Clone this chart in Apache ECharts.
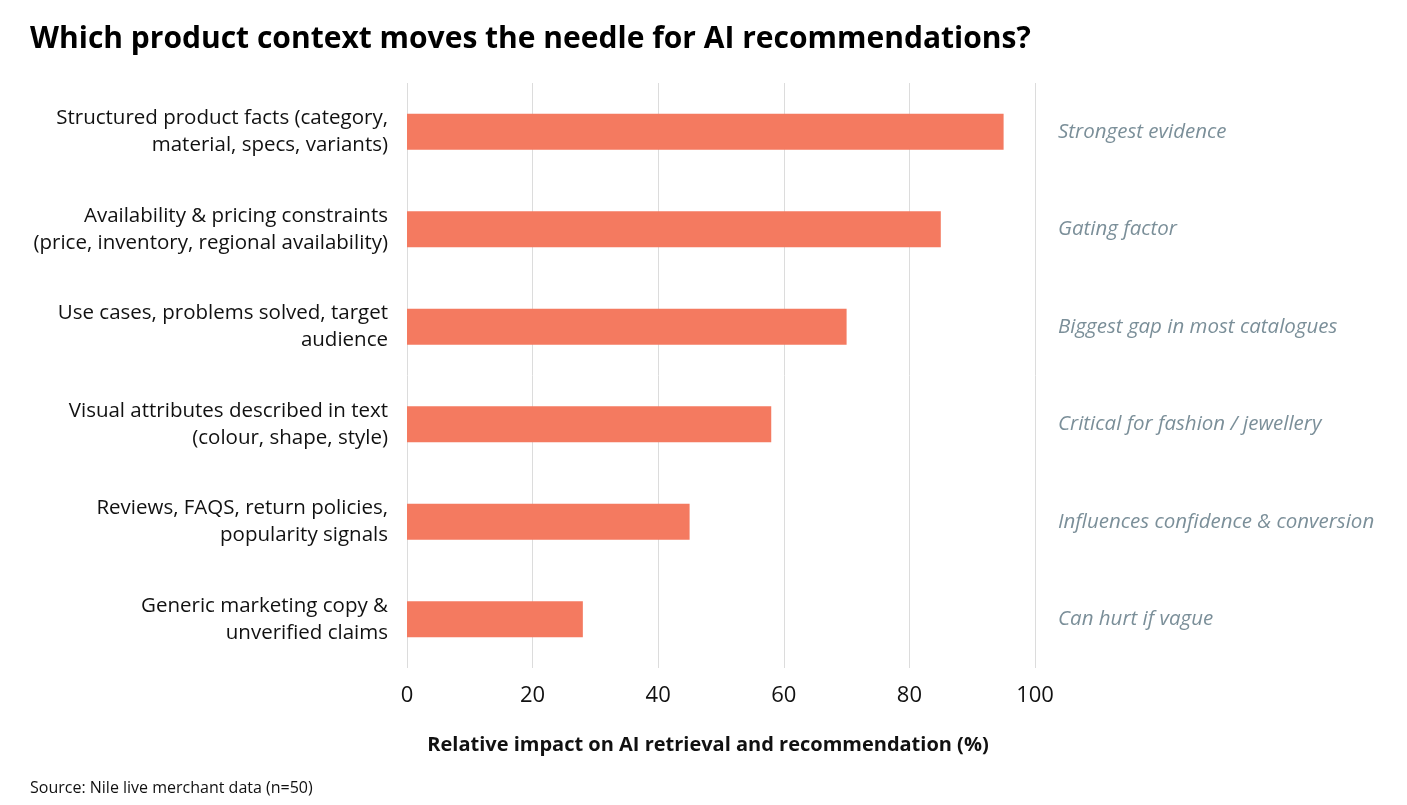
<!DOCTYPE html>
<html>
<head>
<meta charset="utf-8">
<script src="https://cdn.jsdelivr.net/npm/echarts@6/dist/echarts.min.js"></script>
<style>
html,body{margin:0;padding:0;background:#fff;}
#chart{width:1407px;height:805px;}
</style>
</head>
<body>
<div id="chart"></div>
<script>
const categories = [
  "Structured product facts (category,\nmaterial, specs, variants)",
  "Availability & pricing constraints\n(price, inventory, regional availability)",
  "Use cases, problems solved, target\naudience",
  "Visual attributes described in text\n(colour, shape, style)",
  "Reviews, FAQS, return policies,\npopularity signals",
  "Generic marketing copy &\nunverified claims"
];
const values = [95, 85, 70, 58, 45, 28];
const annotations = [
  "Strongest evidence",
  "Gating factor",
  "Biggest gap in most catalogues",
  "Critical for fashion / jewellery",
  "Influences confidence & conversion",
  "Can hurt if vague"
];
const xTicks = [0, 20, 40, 60, 80, 100];

const FONT = "Open Sans";
const chart = echarts.init(document.getElementById('chart'));
chart.setOption({
  backgroundColor: '#ffffff',
  animation: false,
  title: [{
    text: 'Which product context moves the needle for AI recommendations?',
    left: 25, top: 19,
    textStyle: {fontFamily: FONT, fontSize: 30, fontWeight: 'bold', color: '#000'}
  }, {
    text: 'Source: Nile live merchant data (n=50)',
    left: 25, top: 775,
    textStyle: {fontFamily: FONT, fontSize: 16, fontWeight: 'normal', color: '#111'}
  }],
  grid: {left: 407, right: 372, top: 83, bottom: 137, containLabel: false},
  xAxis: {
    type: 'value', min: 0, max: 100, interval: 20,
    name: 'Relative impact on AI retrieval and recommendation (%)',
    nameLocation: 'middle', nameGap: 67,
    nameTextStyle: {fontFamily: FONT, fontSize: 20, fontWeight: 'bold', color: '#111', padding: [0, 26, 0, 0]},
    axisLine: {show: false}, axisTick: {show: false},
    axisLabel: {fontFamily: FONT, fontSize: 22, color: '#111', margin: 17,
      formatter: v => xTicks.includes(v) ? String(v) : ''},
    splitLine: {show: true, lineStyle: {color: '#dcdcdc', width: 1}}
  },
  yAxis: [{
    type: 'category', data: categories, inverse: true,
    axisLine: {show: false}, axisTick: {show: false},
    axisLabel: {fontFamily: FONT, fontSize: 20.5, color: '#111', margin: 19, align: 'right', lineHeight: 27}
  }, {
    type: 'category', data: annotations, inverse: true, position: 'right',
    axisLine: {show: false}, axisTick: {show: false},
    axisLabel: {fontFamily: FONT, fontSize: 20.5, color: '#7b8f99', fontStyle: 'italic', margin: 23, align: 'left'}
  }],
  series: [{
    type: 'bar', data: values, yAxisIndex: 0,
    barWidth: '37%',
    itemStyle: {color: '#F47A60'}
  }]
});
</script>
</body>
</html>
